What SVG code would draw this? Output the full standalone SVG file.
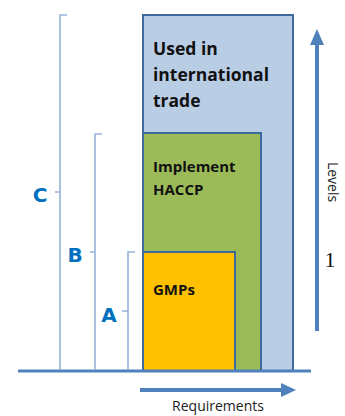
<svg xmlns="http://www.w3.org/2000/svg" width="345" height="416" viewBox="0 0 345 416">
<style>
.box{stroke:#3e6a9a;stroke-width:2}
.lbl{font-family:"Open Sans","Liberation Sans",sans-serif;font-weight:bold;fill:#111}
.brk{fill:none;stroke:#95b3d7;stroke-width:1.6}
.let{font-family:"DejaVu Sans","Liberation Sans",sans-serif;font-weight:bold;fill:#0070c0;font-size:20px}
.arr{stroke:#4f81bd;stroke-width:4}
</style>
<rect width="345" height="416" fill="#fff"/>
<g id="trade">
<rect class="box" x="143" y="15" width="150" height="356" fill="#b9cde5"/>
<text class="lbl" font-size="17.5" x="153" y="55">Used in</text>
<text class="lbl" font-size="17.5" x="153" y="81">international</text>
<text class="lbl" font-size="17.5" x="153" y="107">trade</text>
</g>
<g id="haccp">
<rect class="box" x="143" y="133" width="118" height="238" fill="#9bbb59"/>
<text class="lbl" font-size="15" x="153" y="172">Implement</text>
<text class="lbl" font-size="15" x="153" y="195">HACCP</text>
</g>
<g id="gmps">
<rect class="box" x="143" y="252" width="92" height="119" fill="#ffc000"/>
<text class="lbl" font-size="15" x="153" y="295">GMPs</text>
</g>
<g id="connectors">
<line x1="18" y1="371" x2="311" y2="371" stroke="#4f81bd" stroke-width="3"/>
<line class="arr" x1="317" y1="331" x2="317" y2="43"/>
<polygon points="317,29 310,45 324,45" fill="#4f81bd"/>
<line class="arr" x1="140" y1="390" x2="283" y2="390"/>
<polygon points="296,390 281,383 281,397" fill="#4f81bd"/>
</g>
<g id="bracketC">
<path class="brk" d="M67,15 H60 V370 M60,192 H55"/>
<text class="let" x="40" y="202" text-anchor="middle">C</text>
</g>
<g id="bracketB">
<path class="brk" d="M102,134 H95 V370 M95,252 H90"/>
<text class="let" x="75" y="262" text-anchor="middle">B</text>
</g>
<g id="bracketA">
<path class="brk" d="M135,252 H128 V370 M128,311 H122"/>
<text class="let" x="109" y="322" text-anchor="middle">A</text>
</g>
<text x="218" y="411" text-anchor="middle" font-family="Open Sans,Liberation Sans,sans-serif" font-size="14" fill="#222">Requirements</text>
<text transform="translate(328,182) rotate(90)" text-anchor="middle" font-family="Open Sans,Liberation Sans,sans-serif" font-size="14" fill="#222">Levels</text>
<text x="330" y="267" text-anchor="middle" font-family="Liberation Serif,serif" font-size="22" fill="#111">1</text>
</svg>
